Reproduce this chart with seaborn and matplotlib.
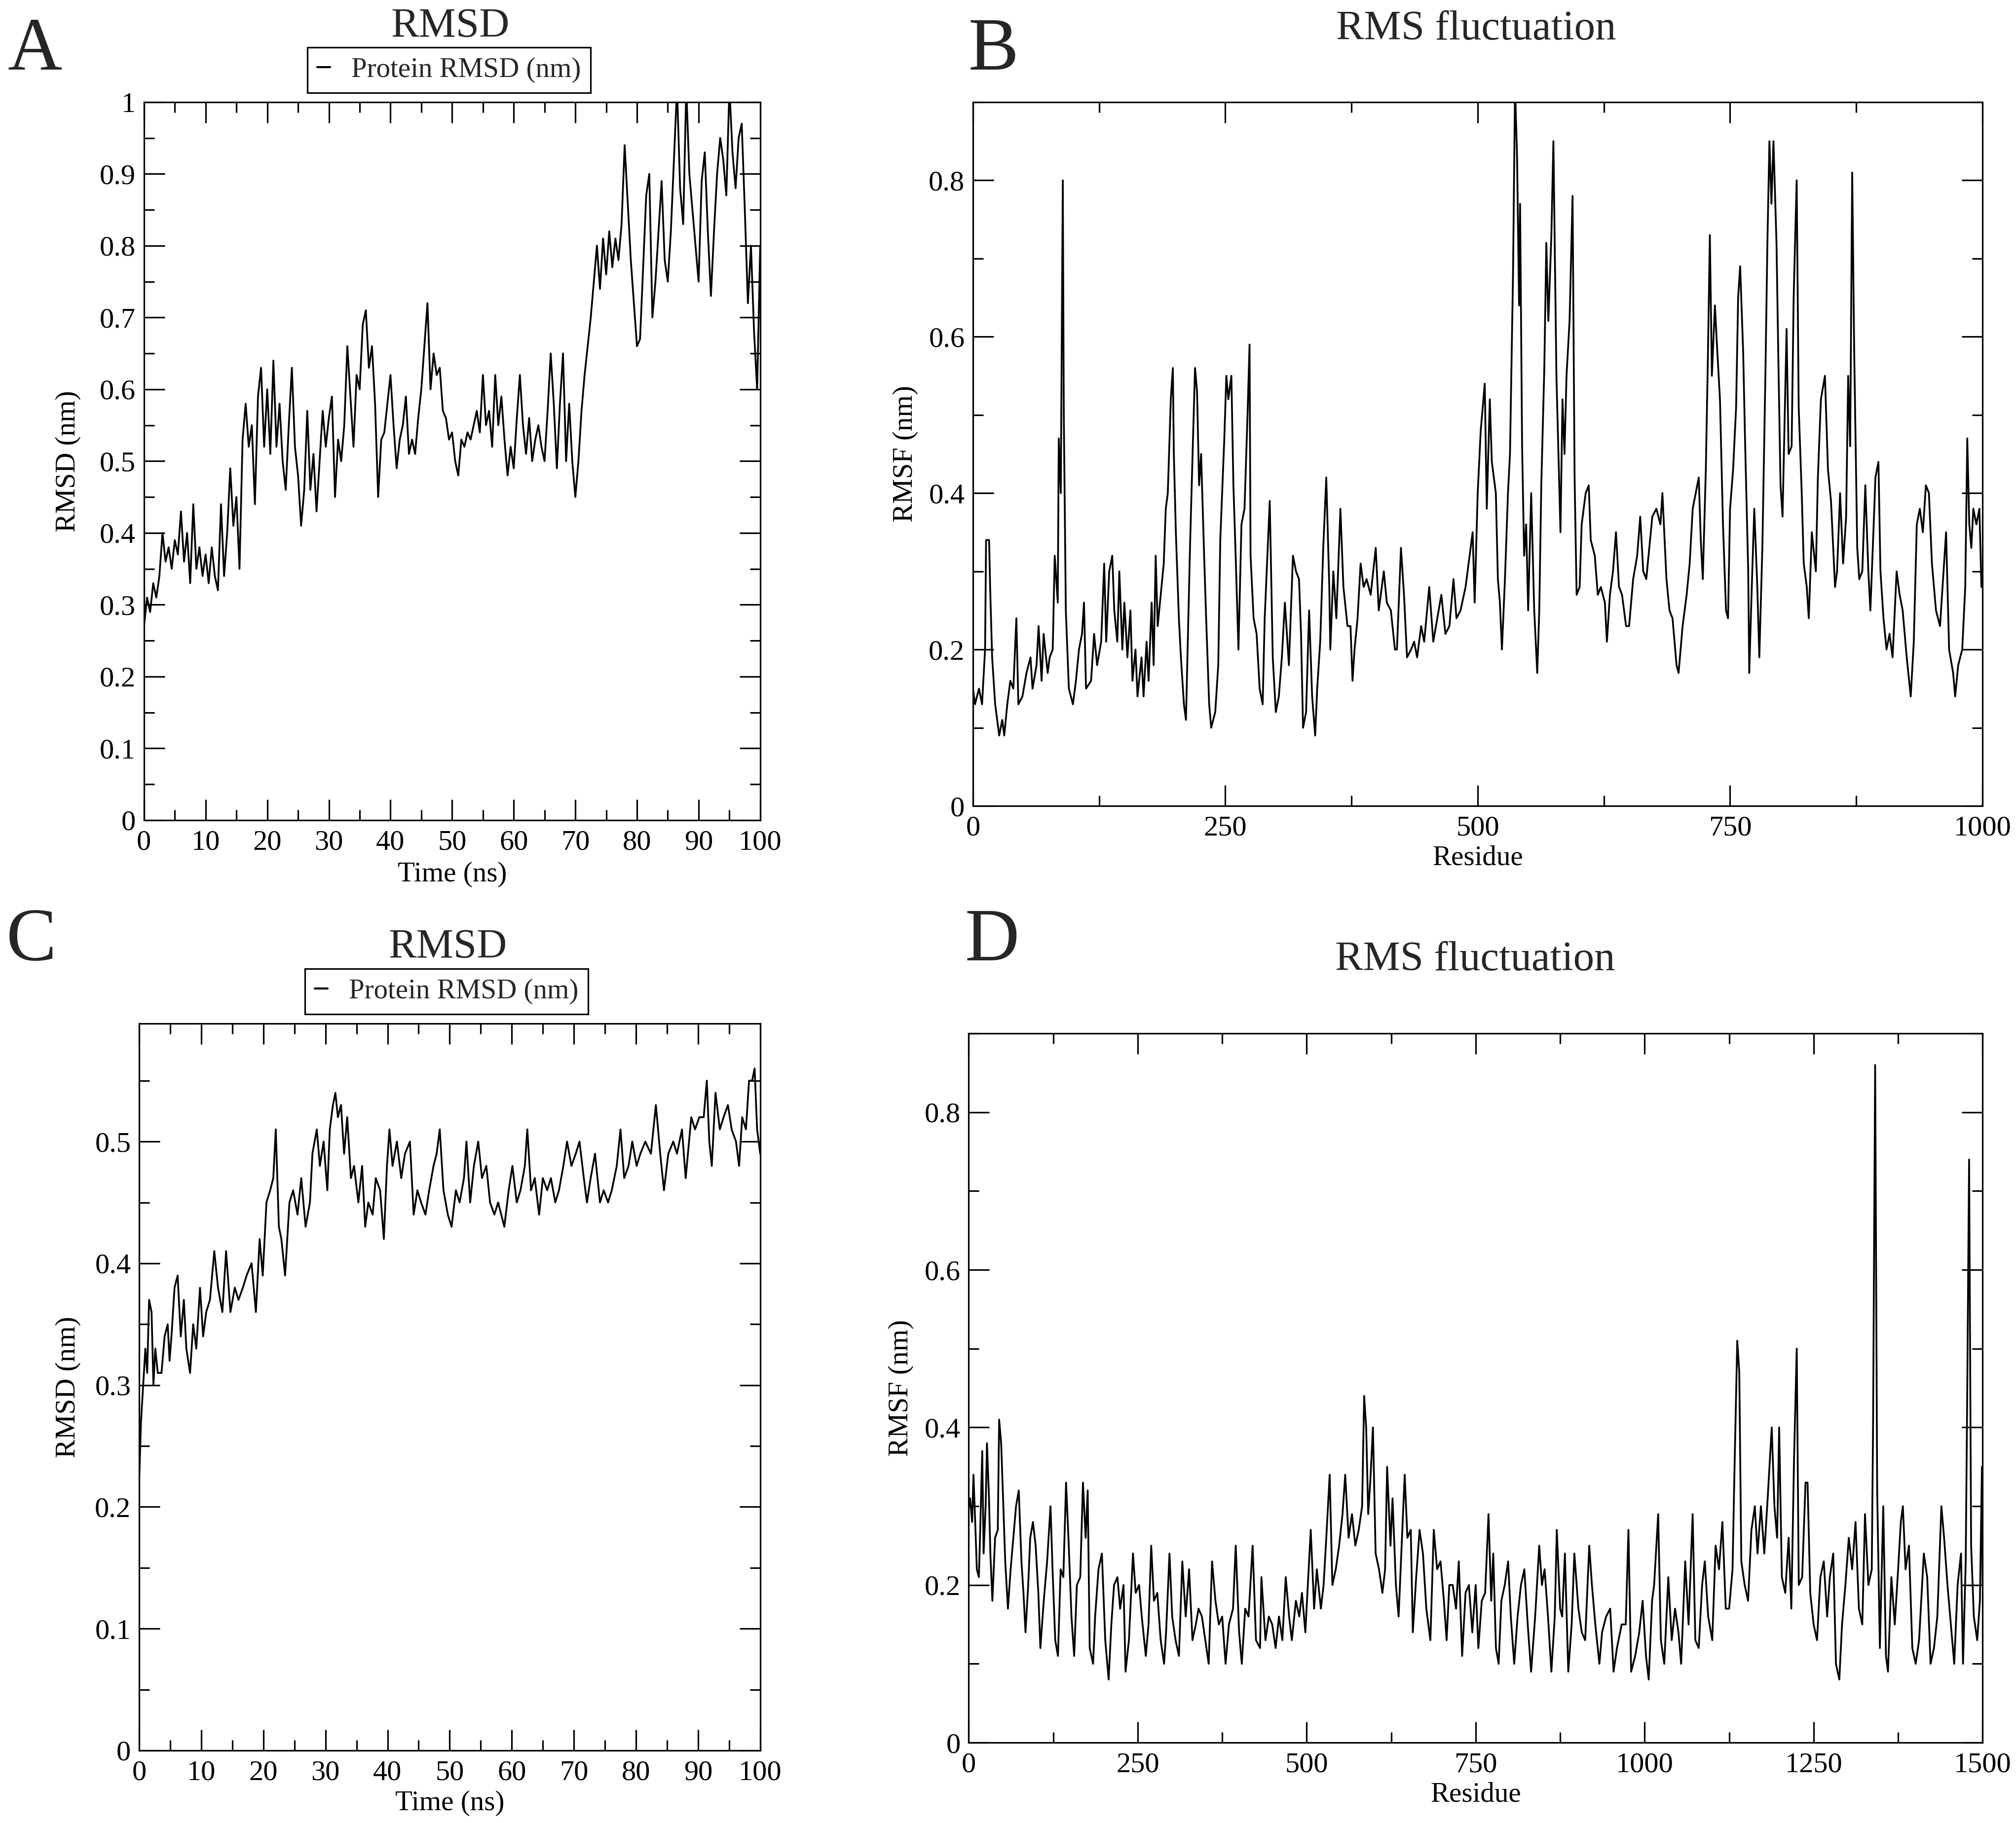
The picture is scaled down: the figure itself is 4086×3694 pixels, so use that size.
import matplotlib
matplotlib.use("Agg")  # headless
import matplotlib.pyplot as plt
from matplotlib.ticker import MultipleLocator, FuncFormatter
import seaborn as sns

# ---- panel A: protein RMSD, run 1 ----
time_a = [
    0, 0.5, 1, 1.5, 2, 2.5, 3, 3.5, 4, 4.5,
    5, 5.5, 6, 6.5, 7, 7.5, 8, 8.5, 9, 9.5,
    10, 10.5, 11, 11.5, 12, 12.5, 13, 13.5, 14, 14.5,
    15, 15.5, 16, 16.5, 17, 17.5, 18, 18.5, 19, 19.5,
    20, 20.5, 21, 21.5, 22, 22.5, 23, 23.5, 24, 24.5,
    25, 25.5, 26, 26.5, 27, 27.5, 28, 28.5, 29, 29.5,
    30, 30.5, 31, 31.5, 32, 32.5, 33, 33.5, 34, 34.5,
    35, 35.5, 36, 36.5, 37, 37.5, 38, 38.5, 39, 39.5,
    40, 40.5, 41, 41.5, 42, 42.5, 43, 43.5, 44, 44.5,
    45, 45.5, 46, 46.5, 47, 47.5, 48, 48.5, 49, 49.5,
    50, 50.5, 51, 51.5, 52, 52.5, 53, 53.5, 54, 54.5,
    55, 55.5, 56, 56.5, 57, 57.5, 58, 58.5, 59, 59.5,
    60, 60.5, 61, 61.5, 62, 62.5, 63, 63.5, 64, 64.5,
    65, 65.5, 66, 66.5, 67, 67.5, 68, 68.5, 69, 69.5,
    70, 70.5, 71, 71.5, 72, 72.5, 73, 73.5, 74, 74.5,
    75, 75.5, 76, 76.5, 77, 77.5, 78, 78.5, 79, 79.5,
    80, 80.5, 81, 81.5, 82, 82.5, 83, 83.5, 84, 84.5,
    85, 85.5, 86, 86.5, 87, 87.5, 88, 88.5, 89, 89.5,
    90, 90.5, 91, 91.5, 92, 92.5, 93, 93.5, 94, 94.5,
    95, 95.5, 96, 96.5, 97, 97.5, 98, 98.5, 99, 99.5,
    100,
]
rmsd_a = [
    0.27, 0.31, 0.29, 0.33, 0.31, 0.34, 0.40, 0.36, 0.38, 0.35,
    0.39, 0.37, 0.43, 0.36, 0.40, 0.33, 0.44, 0.35, 0.38, 0.34,
    0.37, 0.33, 0.38, 0.34, 0.32, 0.44, 0.34, 0.40, 0.49, 0.41,
    0.45, 0.35, 0.53, 0.58, 0.52, 0.55, 0.44, 0.59, 0.63, 0.52,
    0.60, 0.51, 0.64, 0.52, 0.58, 0.50, 0.46, 0.55, 0.63, 0.52,
    0.48, 0.41, 0.46, 0.57, 0.46, 0.51, 0.43, 0.50, 0.57, 0.52,
    0.56, 0.59, 0.45, 0.53, 0.50, 0.55, 0.66, 0.59, 0.52, 0.62,
    0.60, 0.69, 0.71, 0.63, 0.66, 0.58, 0.45, 0.53, 0.54, 0.58,
    0.62, 0.55, 0.49, 0.53, 0.55, 0.59, 0.51, 0.53, 0.51, 0.56,
    0.60, 0.66, 0.72, 0.60, 0.65, 0.62, 0.63, 0.57, 0.56, 0.53,
    0.54, 0.50, 0.48, 0.53, 0.52, 0.54, 0.53, 0.55, 0.57, 0.54,
    0.62, 0.55, 0.57, 0.52, 0.62, 0.55, 0.59, 0.53, 0.48, 0.52,
    0.49, 0.56, 0.62, 0.55, 0.51, 0.56, 0.50, 0.53, 0.55, 0.52,
    0.50, 0.57, 0.65, 0.58, 0.49, 0.58, 0.65, 0.50, 0.58, 0.50,
    0.45, 0.50, 0.57, 0.62, 0.66, 0.70, 0.75, 0.80, 0.74, 0.81,
    0.76, 0.82, 0.77, 0.81, 0.78, 0.83, 0.94, 0.86, 0.78, 0.72,
    0.66, 0.67, 0.77, 0.87, 0.90, 0.70, 0.75, 0.82, 0.89, 0.78,
    0.75, 0.82, 0.92, 1.02, 0.88, 0.83, 1.02, 0.90, 0.85, 0.80,
    0.75, 0.89, 0.93, 0.82, 0.73, 0.82, 0.90, 0.95, 0.92, 0.87,
    1.02, 0.93, 0.88, 0.95, 0.97, 0.85, 0.72, 0.80, 0.68, 0.60,
    0.80,
]

# ---- panel B: RMSF, run 1 ----
residue_b = [
    0, 2, 6, 9, 12, 13, 16, 17, 19, 22,
    26, 29, 31, 34, 37, 40, 43, 45, 49, 53,
    57, 59, 63, 65, 68, 70, 74, 76, 79, 81,
    84, 85, 87, 89, 90, 92, 95, 99, 102, 105,
    108, 110, 112, 117, 120, 123, 127, 130, 132, 135,
    138, 140, 143, 145, 148, 150, 153, 156, 158, 161,
    163, 167, 169, 172, 174, 177, 179, 181, 183, 186,
    189, 191, 193, 196, 198, 199, 201, 204, 206, 209,
    211, 213, 215, 218, 220, 222, 224, 226, 229, 231,
    234, 236, 240, 243, 245, 249, 251, 253, 256, 258,
    260, 263, 266, 269, 272, 274, 275, 278, 281, 284,
    287, 289, 292, 294, 297, 300, 303, 306, 309, 311,
    313, 317, 320, 323, 325, 327, 330, 333, 336, 339,
    341, 344, 347, 350, 353, 354, 357, 360, 364, 367,
    371, 374, 376, 378, 381, 384, 387, 390, 394, 399,
    402, 407, 410, 414, 418, 420, 424, 427, 430, 434,
    437, 440, 444, 447, 452, 456, 460, 464, 468, 472,
    476, 479, 483, 488, 492, 495, 497, 500, 503, 507,
    509, 512, 514, 518, 520, 522, 524, 527, 530, 532,
    535, 537, 539, 541, 542, 544, 546, 548, 550, 553,
    556, 559, 561, 563, 566, 568, 570, 573, 575, 578,
    579, 582, 584, 586, 588, 591, 594, 596, 598, 601,
    603, 607, 610, 612, 616, 619, 622, 626, 628, 631,
    634, 637, 640, 643, 647, 650, 654, 658, 661, 664,
    667, 670, 673, 677, 681, 683, 687, 690, 693, 697,
    699, 703, 707, 710, 713, 716, 719, 721, 723, 726,
    728, 730, 732, 735, 737, 740, 743, 746, 748, 750,
    753, 756, 758, 760, 763, 765, 768, 769, 772, 774,
    777, 779, 782, 785, 787, 789, 791, 793, 796, 798,
    800, 802, 804, 806, 808, 811, 813, 816, 818, 821,
    823, 826, 828, 831, 835, 837, 840, 844, 847, 850,
    854, 856, 859, 862, 865, 867, 869, 871, 873, 876,
    878, 881, 884, 887, 889, 892, 894, 897, 899, 902,
    905, 908, 911, 915, 918, 921, 925, 929, 932, 935,
    938, 941, 944, 947, 950, 954, 958, 961, 964, 967,
    971, 973, 976, 980, 983, 985, 987, 989, 991, 994,
    997, 999,
]
rmsf_b = [
    0.15, 0.13, 0.15, 0.13, 0.20, 0.34, 0.34, 0.28, 0.19, 0.13,
    0.09, 0.11, 0.09, 0.13, 0.16, 0.15, 0.24, 0.13, 0.14, 0.17,
    0.19, 0.15, 0.18, 0.23, 0.16, 0.22, 0.17, 0.19, 0.20, 0.32,
    0.26, 0.47, 0.40, 0.80, 0.50, 0.25, 0.15, 0.13, 0.16, 0.20,
    0.22, 0.26, 0.15, 0.16, 0.22, 0.18, 0.21, 0.31, 0.21, 0.30,
    0.32, 0.25, 0.21, 0.30, 0.20, 0.26, 0.19, 0.25, 0.16, 0.20,
    0.14, 0.19, 0.14, 0.21, 0.16, 0.26, 0.18, 0.32, 0.23, 0.27,
    0.31, 0.38, 0.40, 0.52, 0.56, 0.45, 0.35, 0.24, 0.19, 0.13,
    0.11, 0.22, 0.33, 0.47, 0.56, 0.53, 0.41, 0.45, 0.32, 0.24,
    0.13, 0.10, 0.12, 0.18, 0.34, 0.47, 0.55, 0.52, 0.55, 0.41,
    0.33, 0.20, 0.36, 0.38, 0.50, 0.59, 0.32, 0.24, 0.22, 0.15,
    0.13, 0.24, 0.33, 0.39, 0.19, 0.12, 0.14, 0.19, 0.26, 0.22,
    0.18, 0.32, 0.30, 0.29, 0.22, 0.10, 0.12, 0.25, 0.14, 0.09,
    0.15, 0.21, 0.33, 0.42, 0.28, 0.20, 0.30, 0.24, 0.38, 0.28,
    0.23, 0.23, 0.16, 0.20, 0.24, 0.31, 0.28, 0.29, 0.27, 0.33,
    0.25, 0.30, 0.26, 0.25, 0.20, 0.20, 0.33, 0.27, 0.19, 0.20,
    0.21, 0.19, 0.23, 0.21, 0.28, 0.21, 0.24, 0.27, 0.22, 0.23,
    0.29, 0.24, 0.25, 0.28, 0.32, 0.35, 0.26, 0.40, 0.48, 0.54,
    0.38, 0.52, 0.44, 0.40, 0.29, 0.26, 0.20, 0.29, 0.40, 0.45,
    0.68, 0.92, 0.83, 0.64, 0.77, 0.46, 0.32, 0.36, 0.25, 0.40,
    0.25, 0.17, 0.25, 0.41, 0.56, 0.72, 0.62, 0.73, 0.85, 0.55,
    0.50, 0.35, 0.52, 0.45, 0.55, 0.62, 0.78, 0.42, 0.27, 0.28,
    0.36, 0.40, 0.41, 0.34, 0.32, 0.27, 0.28, 0.26, 0.21, 0.27,
    0.30, 0.35, 0.28, 0.27, 0.23, 0.23, 0.29, 0.32, 0.37, 0.30,
    0.29, 0.33, 0.37, 0.38, 0.36, 0.40, 0.29, 0.25, 0.24, 0.18,
    0.17, 0.23, 0.27, 0.31, 0.38, 0.40, 0.42, 0.34, 0.29, 0.43,
    0.57, 0.73, 0.55, 0.64, 0.59, 0.52, 0.36, 0.25, 0.24, 0.38,
    0.43, 0.51, 0.65, 0.69, 0.58, 0.46, 0.30, 0.17, 0.30, 0.38,
    0.28, 0.19, 0.33, 0.55, 0.72, 0.85, 0.77, 0.85, 0.72, 0.56,
    0.41, 0.37, 0.49, 0.61, 0.45, 0.46, 0.65, 0.80, 0.51, 0.40,
    0.31, 0.28, 0.24, 0.35, 0.30, 0.42, 0.52, 0.55, 0.43, 0.39,
    0.28, 0.30, 0.40, 0.31, 0.37, 0.55, 0.46, 0.81, 0.58, 0.33,
    0.29, 0.30, 0.41, 0.30, 0.25, 0.35, 0.42, 0.44, 0.30, 0.24,
    0.20, 0.22, 0.19, 0.30, 0.27, 0.25, 0.19, 0.14, 0.21, 0.36,
    0.38, 0.35, 0.41, 0.40, 0.31, 0.25, 0.23, 0.29, 0.35, 0.20,
    0.17, 0.14, 0.18, 0.20, 0.28, 0.47, 0.36, 0.33, 0.38, 0.36,
    0.38, 0.28,
]

# ---- panel C: protein RMSD, run 2 ----
time_c = [
    0, 0.3, 0.65, 1, 1.3, 1.6, 2, 2.3, 2.6, 3,
    3.6, 4.1, 4.6, 4.9, 5.2, 5.7, 6.2, 6.7, 7.2, 7.6,
    8.2, 8.7, 9.2, 9.8, 10.3, 10.8, 11.4, 12.1, 12.7, 13.4,
    14, 14.7, 15.4, 16, 16.7, 17.3, 18.1, 18.8, 19.4, 19.9,
    20.5, 21.1, 21.6, 22, 22.5, 22.9, 23.5, 24.2, 24.8, 25.5,
    26.1, 26.8, 27.5, 27.9, 28.6, 29.1, 29.7, 30.3, 30.7, 31.2,
    31.6, 32, 32.5, 33, 33.5, 34.1, 34.6, 35.3, 35.9, 36.4,
    36.9, 37.6, 38.1, 38.8, 39.4, 39.9, 40.3, 40.8, 41.5, 42.2,
    42.8, 43.6, 44.2, 44.8, 45.4, 46.1, 46.7, 47.4, 47.9, 48.4,
    49, 49.7, 50.3, 51, 51.6, 52.3, 52.7, 53.3, 53.9, 54.6,
    55.2, 55.9, 56.5, 57.2, 57.8, 58.8, 59.5, 60.1, 60.8, 61.4,
    62.1, 62.5, 63.1, 63.7, 64.4, 65, 65.7, 66.3, 67, 67.6,
    68.3, 68.9, 69.6, 70.3, 70.9, 71.6, 72.1, 72.7, 73.4, 74.2,
    74.8, 75.5, 76.1, 76.9, 77.5, 78.1, 78.8, 79.4, 80.1, 80.7,
    81.5, 82.4, 83.2, 83.9, 84.5, 85.2, 86, 86.6, 87.4, 88,
    88.9, 89.5, 90.2, 90.9, 91.4, 91.8, 92.2, 92.8, 93.5, 94.1,
    94.8, 95.4, 96.1, 96.6, 97.1, 97.7, 98.2, 98.7, 99.1, 99.5,
    100,
]
rmsd_c = [
    0.22, 0.27, 0.30, 0.33, 0.31, 0.37, 0.36, 0.30, 0.33, 0.31,
    0.31, 0.34, 0.35, 0.32, 0.34, 0.38, 0.39, 0.34, 0.37, 0.33,
    0.31, 0.35, 0.33, 0.38, 0.34, 0.36, 0.37, 0.41, 0.38, 0.36,
    0.41, 0.36, 0.38, 0.37, 0.38, 0.39, 0.40, 0.36, 0.42, 0.39,
    0.45, 0.46, 0.47, 0.51, 0.43, 0.42, 0.39, 0.45, 0.46, 0.44,
    0.47, 0.43, 0.45, 0.49, 0.51, 0.48, 0.50, 0.46, 0.51, 0.53,
    0.54, 0.52, 0.53, 0.49, 0.52, 0.47, 0.48, 0.45, 0.48, 0.43,
    0.45, 0.44, 0.47, 0.46, 0.42, 0.48, 0.51, 0.48, 0.50, 0.47,
    0.49, 0.50, 0.44, 0.46, 0.45, 0.44, 0.46, 0.48, 0.49, 0.51,
    0.46, 0.44, 0.43, 0.46, 0.45, 0.47, 0.50, 0.45, 0.48, 0.50,
    0.47, 0.48, 0.45, 0.44, 0.45, 0.43, 0.46, 0.48, 0.45, 0.46,
    0.48, 0.51, 0.46, 0.47, 0.44, 0.47, 0.46, 0.47, 0.45, 0.46,
    0.48, 0.50, 0.48, 0.49, 0.50, 0.47, 0.45, 0.47, 0.49, 0.45,
    0.46, 0.45, 0.46, 0.48, 0.51, 0.47, 0.48, 0.50, 0.48, 0.49,
    0.50, 0.49, 0.53, 0.49, 0.46, 0.49, 0.50, 0.49, 0.51, 0.47,
    0.52, 0.51, 0.52, 0.52, 0.55, 0.50, 0.48, 0.54, 0.51, 0.52,
    0.53, 0.51, 0.50, 0.48, 0.52, 0.51, 0.55, 0.55, 0.56, 0.51,
    0.49,
]

# ---- panel D: RMSF, run 2 ----
residue_d = [
    0, 2, 5, 7, 10, 12, 15, 17, 20, 22,
    25, 27, 30, 32, 35, 39, 43, 45, 48, 52,
    54, 58, 62, 67, 70, 74, 78, 81, 84, 88,
    91, 95, 99, 103, 106, 111, 116, 121, 124, 128,
    132, 136, 140, 144, 148, 152, 156, 160, 165, 169,
    173, 176, 179, 184, 187, 192, 197, 202, 207, 211,
    215, 220, 224, 229, 232, 237, 243, 247, 252, 256,
    262, 266, 270, 274, 279, 284, 289, 292, 297, 301,
    306, 311, 316, 321, 326, 331, 336, 340, 345, 350,
    355, 360, 365, 370, 375, 380, 385, 391, 395, 400,
    404, 409, 414, 420, 425, 431, 433, 439, 444, 449,
    454, 459, 464, 469, 474, 478, 484, 489, 493, 498,
    506, 511, 515, 521, 525, 529, 534, 538, 543, 548,
    553, 557, 562, 567, 572, 577, 582, 585, 588, 591,
    594, 598, 602, 607, 612, 616, 619, 624, 627, 632,
    636, 640, 645, 649, 654, 657, 662, 667, 672, 677,
    683, 688, 693, 698, 703, 707, 711, 716, 721, 725,
    730, 735, 740, 745, 750, 754, 759, 764, 769, 773,
    776, 780, 784, 788, 793, 798, 802, 807, 812, 817,
    822, 827, 832, 838, 844, 848, 852, 857, 862, 867,
    870, 875, 878, 882, 887, 892, 896, 902, 907, 912,
    918, 922, 927, 933, 937, 943, 949, 954, 959, 966,
    972, 976, 980, 986, 992, 997, 1002, 1006, 1011, 1014,
    1020, 1024, 1029, 1035, 1040, 1045, 1050, 1054, 1060, 1065,
    1071, 1075, 1080, 1085, 1089, 1094, 1100, 1105, 1110, 1115,
    1120, 1125, 1130, 1133, 1137, 1140, 1143, 1148, 1153, 1158,
    1163, 1167, 1172, 1177, 1182, 1188, 1192, 1196, 1199, 1203,
    1208, 1213, 1217, 1221, 1225, 1228, 1233, 1238, 1241, 1245,
    1250, 1255, 1260, 1265, 1270, 1274, 1279, 1283, 1288, 1292,
    1297, 1302, 1307, 1312, 1317, 1322, 1326, 1331, 1336, 1338,
    1341, 1344, 1348, 1353, 1357, 1360, 1365, 1370, 1375, 1379,
    1382, 1386, 1391, 1396, 1401, 1406, 1413, 1418, 1423, 1428,
    1433, 1439, 1443, 1448, 1453, 1458, 1463, 1468, 1471, 1475,
    1477, 1480, 1483, 1487, 1492, 1496, 1499, 1500,
]
rmsf_d = [
    0.30, 0.31, 0.28, 0.34, 0.27, 0.22, 0.21, 0.27, 0.37, 0.24,
    0.30, 0.38, 0.31, 0.24, 0.18, 0.26, 0.27, 0.41, 0.38, 0.28,
    0.23, 0.17, 0.22, 0.27, 0.30, 0.32, 0.23, 0.19, 0.14, 0.20,
    0.26, 0.28, 0.25, 0.19, 0.12, 0.18, 0.23, 0.30, 0.22, 0.13,
    0.11, 0.22, 0.21, 0.33, 0.25, 0.16, 0.11, 0.20, 0.21, 0.33,
    0.26, 0.32, 0.12, 0.10, 0.16, 0.22, 0.24, 0.13, 0.08, 0.15,
    0.20, 0.21, 0.17, 0.20, 0.09, 0.13, 0.24, 0.19, 0.20, 0.16,
    0.11, 0.15, 0.25, 0.18, 0.19, 0.13, 0.10, 0.14, 0.24, 0.16,
    0.13, 0.11, 0.23, 0.16, 0.22, 0.13, 0.15, 0.17, 0.16, 0.13,
    0.10, 0.23, 0.18, 0.15, 0.16, 0.10, 0.15, 0.17, 0.25, 0.14,
    0.10, 0.17, 0.16, 0.25, 0.13, 0.12, 0.21, 0.13, 0.16, 0.15,
    0.12, 0.16, 0.13, 0.21, 0.16, 0.13, 0.18, 0.16, 0.19, 0.14,
    0.27, 0.17, 0.22, 0.17, 0.20, 0.26, 0.34, 0.20, 0.22, 0.25,
    0.29, 0.34, 0.26, 0.29, 0.25, 0.27, 0.30, 0.44, 0.40, 0.29,
    0.33, 0.40, 0.24, 0.22, 0.19, 0.22, 0.35, 0.25, 0.31, 0.20,
    0.16, 0.24, 0.34, 0.26, 0.27, 0.14, 0.21, 0.27, 0.24, 0.17,
    0.13, 0.27, 0.22, 0.23, 0.18, 0.13, 0.20, 0.20, 0.17, 0.23,
    0.11, 0.19, 0.20, 0.14, 0.20, 0.12, 0.18, 0.19, 0.29, 0.18,
    0.24, 0.12, 0.10, 0.18, 0.20, 0.23, 0.16, 0.10, 0.16, 0.20,
    0.22, 0.15, 0.09, 0.16, 0.25, 0.20, 0.22, 0.16, 0.09, 0.16,
    0.27, 0.17, 0.16, 0.24, 0.09, 0.15, 0.24, 0.17, 0.14, 0.13,
    0.25, 0.20, 0.15, 0.10, 0.14, 0.16, 0.17, 0.09, 0.12, 0.15,
    0.15, 0.27, 0.09, 0.11, 0.14, 0.18, 0.11, 0.08, 0.18, 0.20,
    0.29, 0.13, 0.10, 0.21, 0.13, 0.17, 0.14, 0.10, 0.23, 0.15,
    0.29, 0.13, 0.12, 0.20, 0.23, 0.16, 0.13, 0.25, 0.22, 0.28,
    0.17, 0.17, 0.22, 0.35, 0.51, 0.47, 0.23, 0.20, 0.18, 0.27,
    0.30, 0.24, 0.30, 0.24, 0.31, 0.40, 0.30, 0.26, 0.40, 0.21,
    0.19, 0.26, 0.17, 0.36, 0.50, 0.20, 0.21, 0.33, 0.33, 0.19,
    0.15, 0.13, 0.21, 0.23, 0.16, 0.21, 0.24, 0.10, 0.08, 0.15,
    0.20, 0.26, 0.22, 0.28, 0.17, 0.15, 0.29, 0.20, 0.22, 0.41,
    0.86, 0.32, 0.12, 0.30, 0.11, 0.09, 0.21, 0.15, 0.22, 0.28,
    0.30, 0.22, 0.25, 0.12, 0.10, 0.13, 0.24, 0.21, 0.10, 0.12,
    0.16, 0.30, 0.26, 0.20, 0.15, 0.10, 0.20, 0.24, 0.10, 0.23,
    0.42, 0.74, 0.25, 0.16, 0.13, 0.18, 0.35, 0.20,
]

RMSD_LABEL = "Protein RMSD (nm)"

sns.set_theme(style="ticks")
plt.rcParams["font.family"] = ["Liberation Serif", "DejaVu Serif"]
plt.rcParams["axes.facecolor"] = "white"
plt.rcParams["figure.facecolor"] = "white"

TICK_FS = 42
LABEL_FS = 41
LEGEND_FS = 41
TITLE_FS = 61
LETTER_FS = 110
FRAME_LW = 2.3
TRACE_LW = 2.6


def grace_axes(ax, xlim, ylim, xmaj, xmin, ymaj, ymin):
    ax.set_xlim(*xlim)
    ax.set_ylim(*ylim)
    ax.xaxis.set_major_locator(MultipleLocator(xmaj))
    ax.xaxis.set_minor_locator(MultipleLocator(xmin))
    ax.yaxis.set_major_locator(MultipleLocator(ymaj))
    ax.yaxis.set_minor_locator(MultipleLocator(ymin))
    fmt = FuncFormatter(lambda v, p: f"{v:g}")
    ax.xaxis.set_major_formatter(fmt)
    ax.yaxis.set_major_formatter(fmt)
    ax.tick_params(which="both", direction="in", top=True, right=True,
                   width=FRAME_LW, color="black", labelcolor="black",
                   labelsize=TICK_FS)
    ax.tick_params(which="major", length=30)
    ax.tick_params(which="minor", length=15)
    ax.tick_params(axis="x", pad=14)
    ax.tick_params(axis="y", pad=12)
    for s in ax.spines.values():
        s.set_linewidth(FRAME_LW)
        s.set_color("black")
    ax.grid(False)


def rmsd_legend(ax):
    leg = ax.legend(loc="lower center", bbox_to_anchor=(0.495, 1.013),
                    borderaxespad=0, fontsize=LEGEND_FS, frameon=True,
                    fancybox=False, edgecolor="black", framealpha=1,
                    handlelength=0.45, handletextpad=0.75, borderpad=0.35)
    leg.get_frame().set_linewidth(FRAME_LW)
    for ln in leg.get_lines():
        ln.set_linewidth(3.0)


fig = plt.figure(figsize=(40.87, 36.94), dpi=100)

ax_a = fig.add_axes([0.0714, 0.5501, 0.3056, 0.3939])
ax_b = fig.add_axes([0.4825, 0.5579, 0.5006, 0.3861])
ax_c = fig.add_axes([0.0690, 0.0398, 0.3080, 0.3988])
ax_d = fig.add_axes([0.4804, 0.0441, 0.5028, 0.3890])

sns.lineplot(x=time_a, y=rmsd_a, ax=ax_a, color="black", linewidth=TRACE_LW,
             estimator=None, sort=False, label=RMSD_LABEL)
sns.lineplot(x=residue_b, y=rmsf_b, ax=ax_b, color="black", linewidth=TRACE_LW,
             estimator=None, sort=False, legend=False)
sns.lineplot(x=time_c, y=rmsd_c, ax=ax_c, color="black", linewidth=TRACE_LW,
             estimator=None, sort=False, label=RMSD_LABEL)
sns.lineplot(x=residue_d, y=rmsf_d, ax=ax_d, color="black", linewidth=TRACE_LW,
             estimator=None, sort=False, legend=False)

grace_axes(ax_a, (0, 100), (0, 1), 10, 5, 0.1, 0.05)
grace_axes(ax_b, (0, 1000), (0, 0.9), 250, 125, 0.2, 0.1)
grace_axes(ax_c, (0, 100), (0, 0.597), 10, 5, 0.1, 0.05)
grace_axes(ax_d, (0, 1500), (0, 0.9), 250, 125, 0.2, 0.1)

rmsd_legend(ax_a)
rmsd_legend(ax_c)

for ax, xl, yl, xc, yc in [
    (ax_a, "Time (ns)", "RMSD (nm)", -0.058, -0.102),
    (ax_b, "Residue", "RMSF (nm)", -0.056, -0.054),
    (ax_c, "Time (ns)", "RMSD (nm)", -0.055, -0.094),
    (ax_d, "Residue", "RMSF (nm)", -0.055, -0.054),
]:
    ax.set_xlabel(xl, fontsize=LABEL_FS, color="black")
    ax.set_ylabel(yl, fontsize=LABEL_FS, color="black")
    ax.xaxis.set_label_coords(0.5, xc)
    ax.xaxis.label.set_va("top")
    ax.yaxis.set_label_coords(yc, 0.5)

# titles and panel letters
fig.text(0.2234, 0.9797, "RMSD", fontsize=TITLE_FS, ha="center", va="baseline")
fig.text(0.7321, 0.9783, "RMS fluctuation", fontsize=TITLE_FS, ha="center", va="baseline")
fig.text(0.2222, 0.4746, "RMSD", fontsize=TITLE_FS, ha="center", va="baseline")
fig.text(0.7316, 0.4678, "RMS fluctuation", fontsize=TITLE_FS, ha="center", va="baseline")

fig.text(0.0037, 0.9618, "A", fontsize=LETTER_FS, ha="left", va="baseline")
fig.text(0.4803, 0.9618, "B", fontsize=LETTER_FS, ha="left", va="baseline")
fig.text(0.0032, 0.4732, "C", fontsize=LETTER_FS, ha="left", va="baseline")
fig.text(0.4786, 0.4732, "D", fontsize=LETTER_FS, ha="left", va="baseline")

fig.savefig("out.png", dpi=100, facecolor="white")
plt.close(fig)
